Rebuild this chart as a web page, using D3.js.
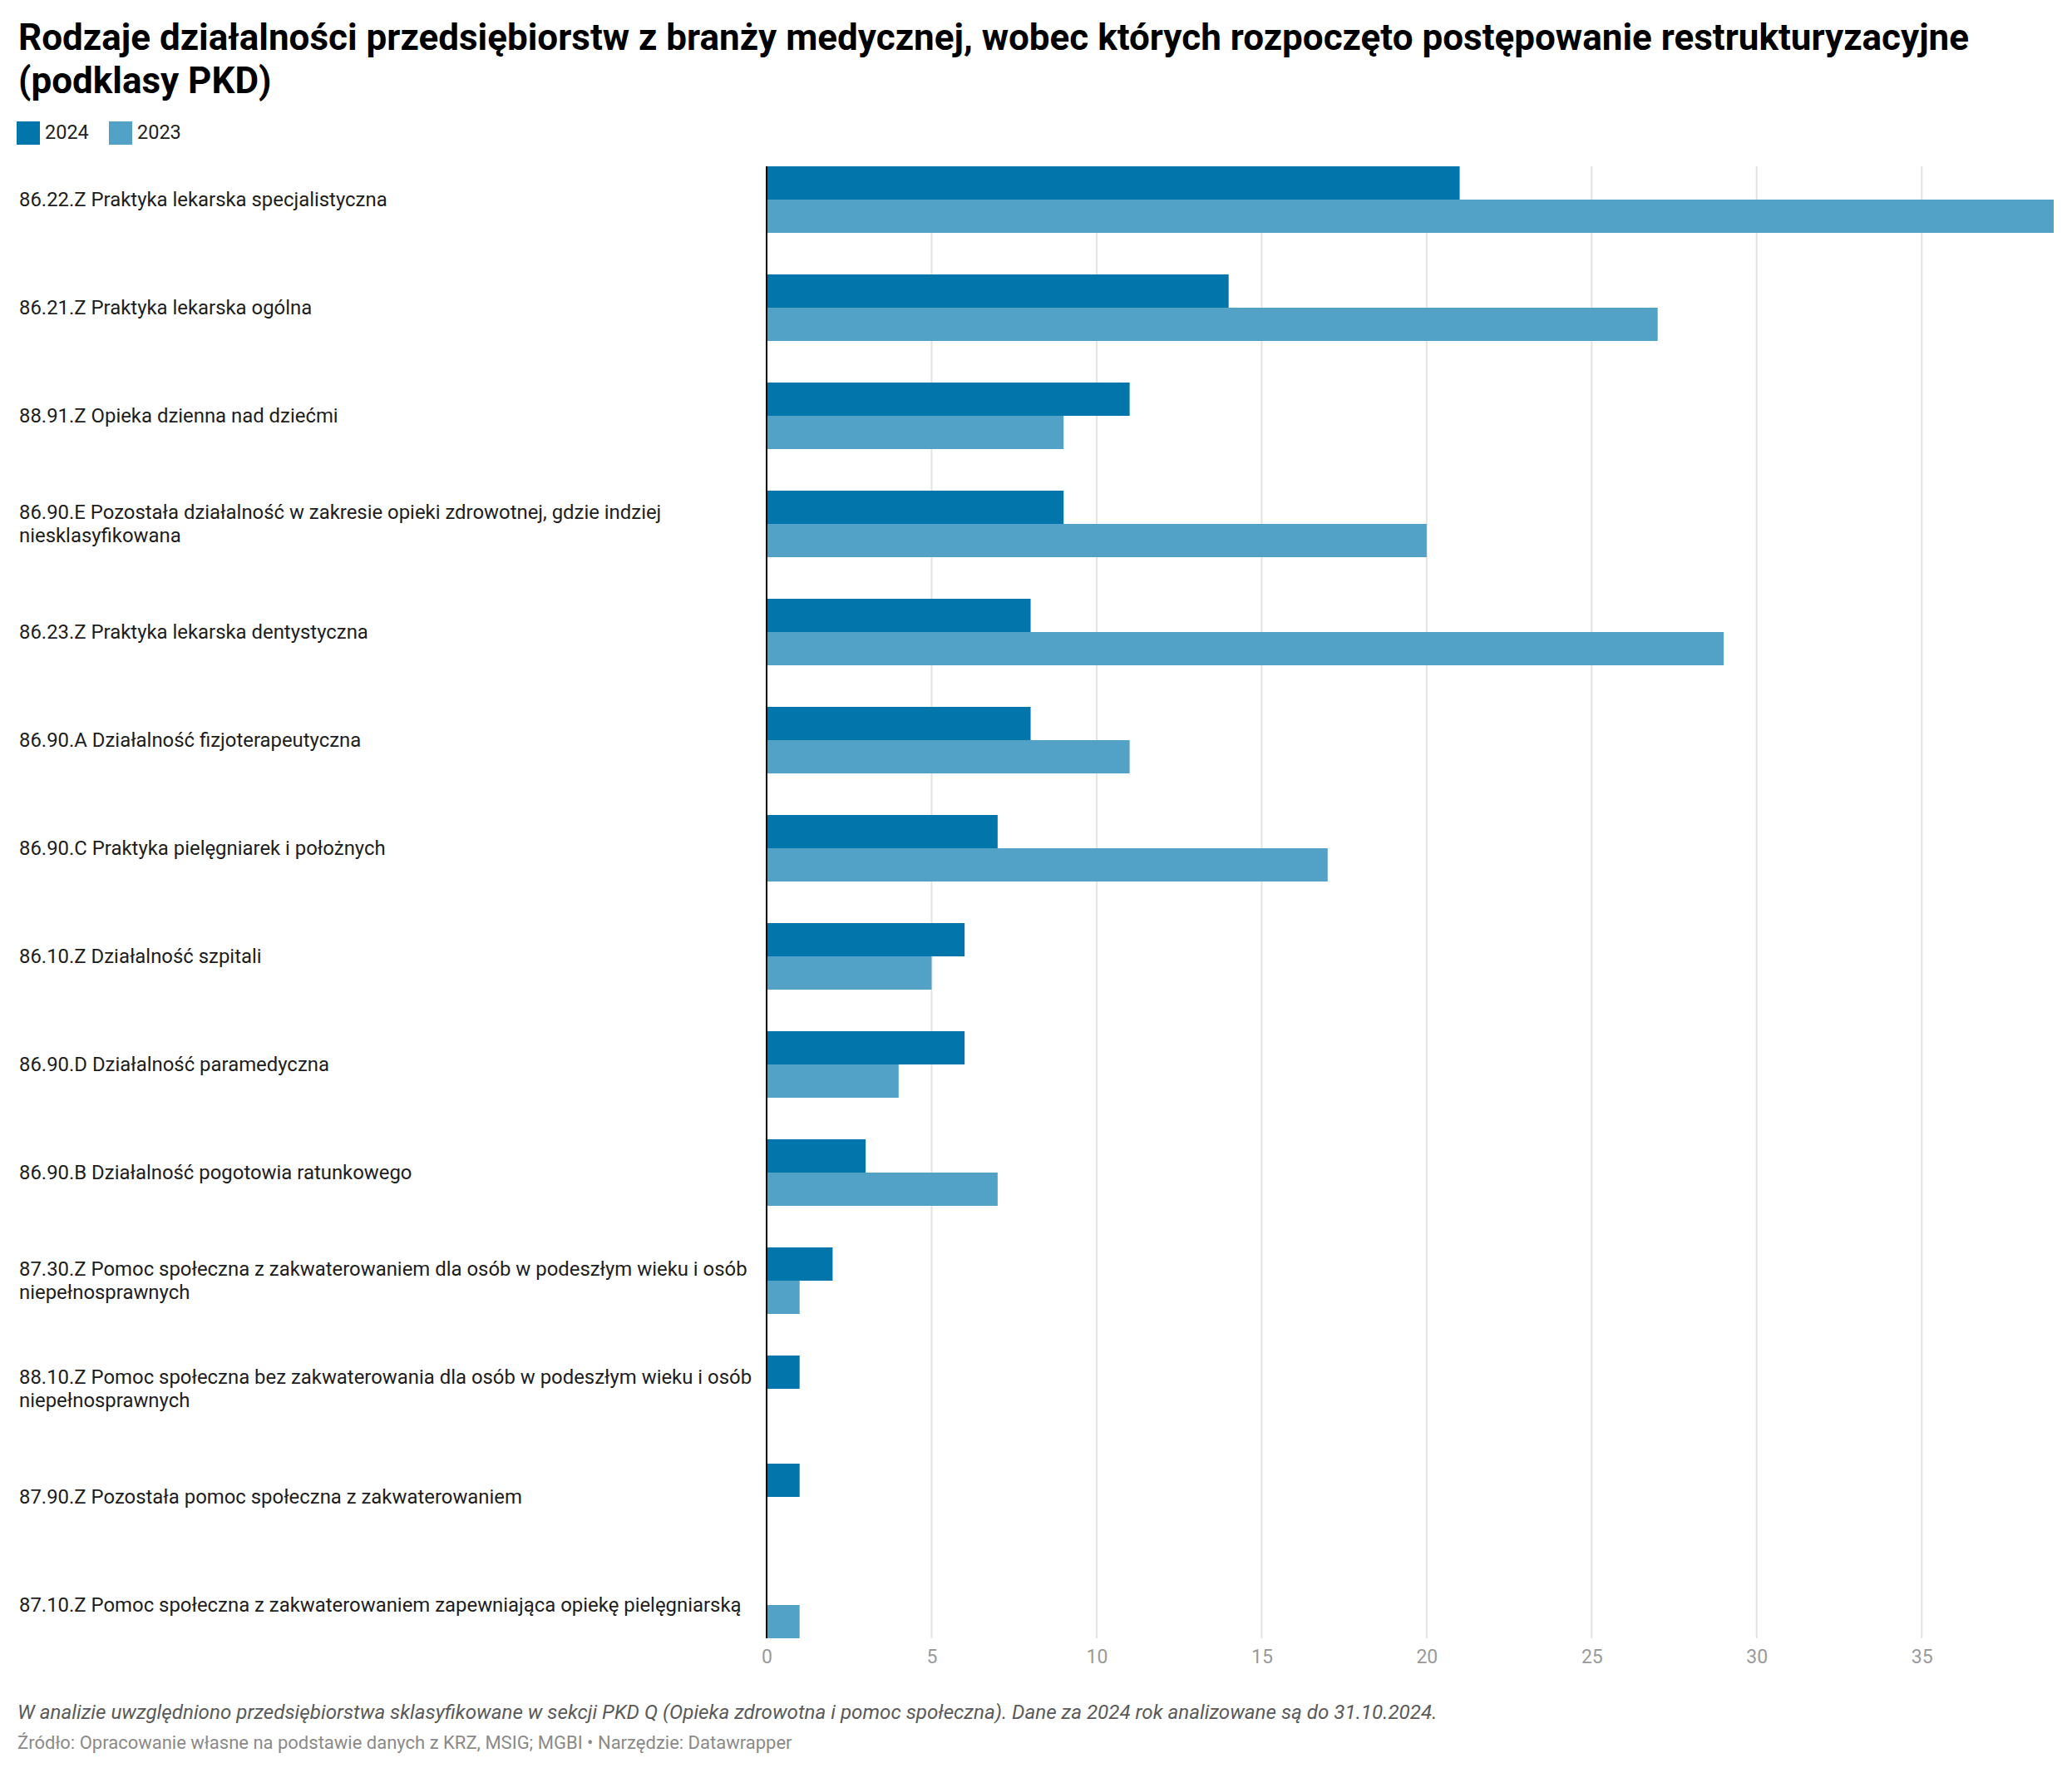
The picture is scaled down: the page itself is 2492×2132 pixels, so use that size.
<!DOCTYPE html>
<html>
<head>
<meta charset="utf-8">
<script src="https://cdn.jsdelivr.net/npm/d3@7"></script>
<style>
  body { margin: 0; background: #fff; }
  text { font-family: Roboto, "Noto Sans", sans-serif; }
</style>
</head>
<body>
<script>
// data
const categories = [
    "86.22.Z Praktyka lekarska specjalistyczna",
    "86.21.Z Praktyka lekarska ogólna",
    "88.91.Z Opieka dzienna nad dziećmi",
    "86.90.E Pozostała działalność w zakresie opieki zdrowotnej, gdzie indziej\nniesklasyfikowana",
    "86.23.Z Praktyka lekarska dentystyczna",
    "86.90.A Działalność fizjoterapeutyczna",
    "86.90.C Praktyka pielęgniarek i położnych",
    "86.10.Z Działalność szpitali",
    "86.90.D Działalność paramedyczna",
    "86.90.B Działalność pogotowia ratunkowego",
    "87.30.Z Pomoc społeczna z zakwaterowaniem dla osób w podeszłym wieku i osób\nniepełnosprawnych",
    "88.10.Z Pomoc społeczna bez zakwaterowania dla osób w podeszłym wieku i osób\nniepełnosprawnych",
    "87.90.Z Pozostała pomoc społeczna z zakwaterowaniem",
    "87.10.Z Pomoc społeczna z zakwaterowaniem zapewniająca opiekę pielęgniarską"
];
const values2024 = [21, 14, 11, 9, 8, 8, 7, 6, 6, 3, 2, 1, 1, 0];
const values2023 = [39, 27, 9, 20, 29, 11, 17, 5, 4, 7, 1, 0, 0, 1];
const seriesNames = ["2024", "2023"];
const tickValues = [0, 5, 10, 15, 20, 25, 30, 35];

const colors = { "2024": "#0275ab", "2023": "#52a1c7" };

const width = 2492, height = 2132;
const svg = d3.select('body').append('svg')
    .attr('width', width)
    .attr('height', height);

// title
svg.append('text')
    .attr('x', 22).attr('y', 60)
    .attr('font-size', 44).attr('font-weight', 700).attr('fill', '#000')
    .text('Rodzaje działalności przedsiębiorstw z branży medycznej, wobec których rozpoczęto postępowanie restrukturyzacyjne');
svg.append('text')
    .attr('x', 22).attr('y', 112)
    .attr('font-size', 44).attr('font-weight', 700).attr('fill', '#000')
    .text('(podklasy PKD)');

// legend
const legend = svg.append('g').selectAll('g')
    .data(seriesNames)
    .enter().append('g')
    .attr('transform', (d, i) => `translate(${20 + i * 111},146)`);
legend.append('rect')
    .attr('width', 28).attr('height', 28)
    .attr('fill', d => colors[d]);
legend.append('text')
    .attr('x', 34).attr('y', 21)
    .attr('font-size', 23.5).attr('fill', '#222')
    .text(d => d);

// scales
const x = d3.scaleLinear().domain([0, 39]).range([922, 2470]);
const y = d3.scaleBand().domain(categories).range([200, 1970]).paddingInner(50 / 130).paddingOuter(0);
const ySeries = d3.scaleBand().domain(seriesNames).range([0, y.bandwidth()]);

// gridlines
svg.append('g').selectAll('line')
    .data(tickValues.filter(d => d > 0))
    .enter().append('line')
    .attr('x1', d => x(d)).attr('x2', d => x(d))
    .attr('y1', 200).attr('y2', 1970)
    .attr('stroke', '#e3e3e3').attr('stroke-width', 2);

// bars
const groups = svg.append('g').selectAll('g')
    .data(categories.map((c, i) => ({ cat: c, vals: [values2024[i], values2023[i]] })))
    .enter().append('g')
    .attr('transform', d => `translate(0,${y(d.cat)})`);

groups.selectAll('rect')
    .data(d => d.vals.map((v, j) => ({ series: seriesNames[j], value: v })))
    .enter().append('rect')
    .attr('x', x(0))
    .attr('y', d => ySeries(d.series))
    .attr('width', d => x(d.value) - x(0))
    .attr('height', ySeries.bandwidth())
    .attr('fill', d => colors[d.series]);

// category labels
const labels = svg.append('g').selectAll('text')
    .data(categories)
    .enter().append('text')
    .attr('x', 23)
    .attr('font-size', 23.9).attr('fill', '#1d1d1d');
labels.each(function (d) {
    const lines = d.split('\n');
    const mid = y(d) + y.bandwidth() / 2;
    const lh = 28;
    const first = mid + 8 - (lines.length - 1) * lh / 2;
    d3.select(this).selectAll('tspan')
        .data(lines)
        .enter().append('tspan')
        .attr('x', 23)
        .attr('y', (l, k) => first + k * lh)
        .text(l => l);
});

// axis line
svg.append('line')
    .attr('x1', x(0)).attr('x2', x(0))
    .attr('y1', 200).attr('y2', 1970)
    .attr('stroke', '#000').attr('stroke-width', 2);

// x axis
const xAxis = d3.axisBottom(x).tickValues(tickValues).tickSize(0).tickPadding(0);
const axisG = svg.append('g')
    .attr('transform', 'translate(0,2000)')
    .call(xAxis);
axisG.select('.domain').remove();
axisG.selectAll('text')
    .attr('dy', 0)
    .attr('font-size', 23)
    .attr('fill', '#9a9a9a')
    .style('font-family', 'Roboto, sans-serif');

// notes
svg.append('text')
    .attr('x', 21).attr('y', 2067)
    .attr('font-size', 24.2).attr('font-style', 'italic').attr('fill', '#5a5a5a')
    .text('W analizie uwzględniono przedsiębiorstwa sklasyfikowane w sekcji PKD Q (Opieka zdrowotna i pomoc społeczna). Dane za 2024 rok analizowane są do 31.10.2024.');
svg.append('text')
    .attr('x', 21).attr('y', 2103)
    .attr('font-size', 22).attr('fill', '#8a8a8a')
    .text('Źródło: Opracowanie własne na podstawie danych z KRZ, MSIG; MGBI • Narzędzie: Datawrapper');
</script>
</body>
</html>
